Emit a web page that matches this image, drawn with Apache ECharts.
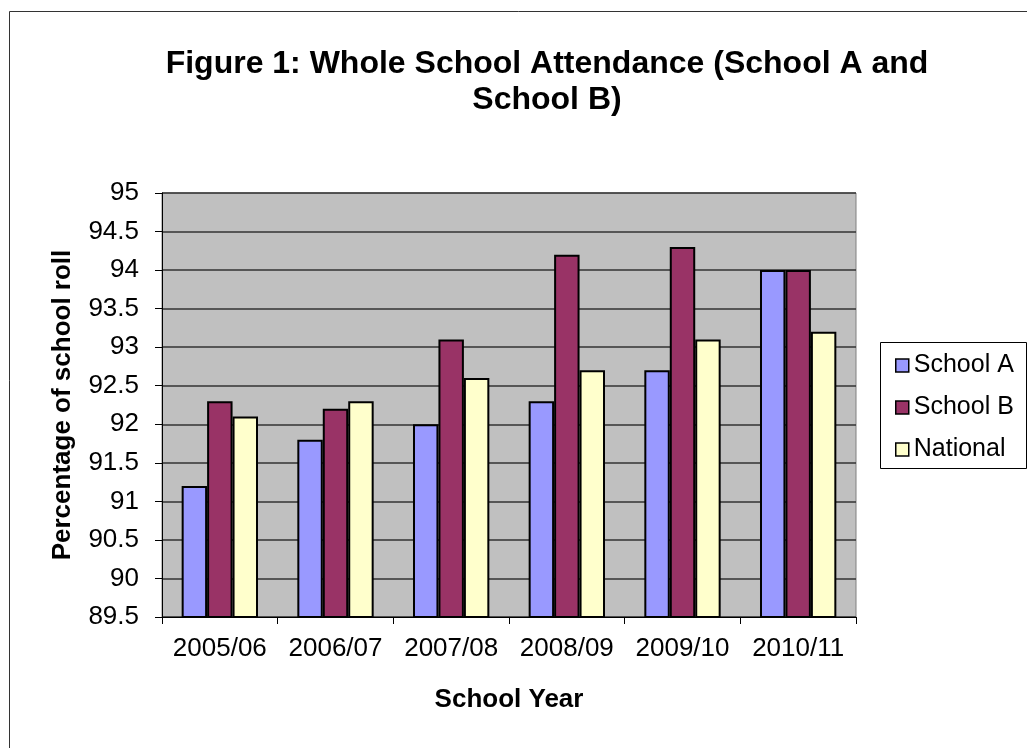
<!DOCTYPE html>
<html>
<head>
<meta charset="utf-8">
<title>Whole School Attendance</title>
<script src="https://cdn.jsdelivr.net/npm/echarts@6/dist/echarts.min.js"></script>
<style>
  html, body { margin: 0; padding: 0; background: #ffffff; }
  #chart { width: 1027px; height: 748px; }
</style>
</head>
<body>
<div id="chart"></div>
<script>
// School years on the category axis
const years = ['2005/06', '2006/07', '2007/08', '2008/09', '2009/10', '2010/11'];

// Attendance as a percentage of the school roll
const schoolA = [91.2, 91.8, 92.0, 92.3, 92.7, 94.0];
const schoolB = [92.3, 92.2, 93.1, 94.2, 94.3, 94.0];
const national = [92.1, 92.3, 92.6, 92.7, 93.1, 93.2];

// Value axis range and step
const yMin = 89.5;
const yMax = 95;
const yStep = 0.5;

const FONT = '"Liberation Sans", Arial, sans-serif';

const chart = echarts.init(document.getElementById('chart'), null, { renderer: 'canvas' });

function barSeries(name, data, color) {
  return {
    name: name,
    type: 'bar',
    data: data,
    barGap: '0%',
    barCategoryGap: '34%',
    itemStyle: { color: color, borderColor: '#000000', borderWidth: 2 },
    emphasis: { disabled: true }
  };
}

chart.setOption({
  animation: false,
  backgroundColor: '#ffffff',
  textStyle: { fontFamily: FONT },
  title: {
    text: 'Figure 1: Whole School Attendance (School A and\nSchool B)',
    left: 542,
    top: 41,
    textAlign: 'center',
    textStyle: {
      fontFamily: FONT,
      fontSize: 32,
      fontWeight: 'bold',
      color: '#000000',
      lineHeight: 36
    }
  },
  graphic: [
    {
      type: 'rect',
      shape: { x: 9.5, y: 11.5, width: 1040, height: 760 },
      style: { fill: null, stroke: '#333333', lineWidth: 1 },
      silent: true,
      z: -1
    },
    {
      type: 'rect',
      shape: { x: 880.5, y: 342.5, width: 146, height: 126 },
      style: { fill: '#ffffff', stroke: '#000000', lineWidth: 1 },
      silent: true,
      z: 1
    }
  ],
  legend: {
    orient: 'vertical',
    left: 895,
    top: 353,
    padding: 0,
    itemWidth: 13,
    itemHeight: 13,
    itemGap: 17,
    icon: 'rect',
    selectedMode: false,
    z: 5,
    itemStyle: { borderColor: '#000000', borderWidth: 1.5 },
    textStyle: { fontFamily: FONT, fontSize: 25, color: '#000000' },
    data: ['School A', 'School B', 'National']
  },
  grid: {
    left: 162,
    right: 171,
    top: 193,
    bottom: 131,
    show: true,
    backgroundColor: '#c0c0c0',
    borderColor: '#808080',
    borderWidth: 1,
    containLabel: false
  },
  xAxis: {
    type: 'category',
    data: years,
    name: 'School Year',
    nameLocation: 'middle',
    nameGap: 70,
    nameTextStyle: { fontFamily: FONT, fontSize: 26, fontWeight: 'bold', color: '#000000' },
    axisLine: { lineStyle: { color: '#000000', width: 1 } },
    axisTick: { show: true, alignWithLabel: false, length: 7, lineStyle: { color: '#000000' } },
    axisLabel: { interval: 0, hideOverlap: false, fontFamily: FONT, fontSize: 26, color: '#000000', margin: 19 },
    splitLine: { show: false }
  },
  yAxis: {
    type: 'value',
    min: yMin,
    max: yMax,
    interval: yStep,
    name: 'Percentage of school roll',
    nameLocation: 'middle',
    nameGap: 86,
    nameTextStyle: { fontFamily: FONT, fontSize: 26, fontWeight: 'bold', color: '#000000' },
    axisLine: { show: true, lineStyle: { color: '#000000', width: 1 } },
    axisTick: { show: true, length: 7, lineStyle: { color: '#000000' } },
    axisLabel: { fontFamily: FONT, fontSize: 26, color: '#000000', margin: 23 },
    splitLine: { show: true, lineStyle: { color: '#333333', width: 1.5 } }
  },
  series: [
    barSeries('School A', schoolA, '#9999ff'),
    barSeries('School B', schoolB, '#993366'),
    barSeries('National', national, '#ffffcc')
  ]
});
</script>
</body>
</html>
